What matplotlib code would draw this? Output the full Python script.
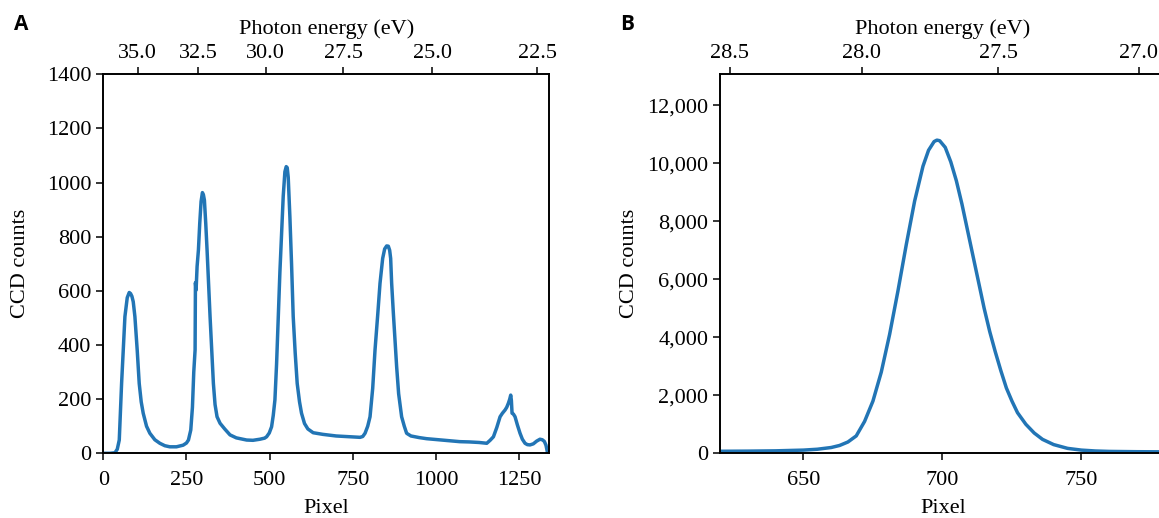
import numpy as np
import matplotlib.pyplot as plt

# panel A: full spectrum on the CCD
pixA = [0, 20, 35, 42, 48, 55, 65, 72, 78, 82, 86, 90, 95, 102, 108, 114, 120, 130, 140, 155, 170,
        185, 200, 220, 240, 250, 256, 263, 268, 272, 276, 277, 279, 282, 286, 290, 294, 298, 301,
        304, 308, 312, 316, 321, 326, 331, 336, 342, 351, 365, 381, 400, 431, 450, 471, 485, 491,
        499, 506, 511, 516, 521, 526, 531, 536, 541, 546, 550, 553, 556, 561, 566, 571, 577, 583,
        590, 596, 605, 615, 631, 660, 700, 740, 772, 780, 787, 795, 802, 810, 817, 825, 832, 840,
        846, 852, 857, 861, 864, 867, 872, 877, 882, 888, 897, 905, 912, 925, 950, 972, 1000,
        1030, 1072, 1100, 1130, 1153, 1163, 1173, 1183, 1193, 1200, 1208, 1213, 1218, 1222, 1225,
        1227, 1229, 1233, 1238, 1245, 1253, 1260, 1268, 1275, 1283, 1293, 1303, 1313, 1320, 1326,
        1331, 1335, 1340]
cntA = [0, 0, 2, 15, 49, 258, 505, 575, 594, 590, 580, 560, 505, 380, 258, 190, 148, 100, 74, 50, 37,
        28, 24, 24, 30, 38, 49, 86, 170, 300, 382, 630, 603, 690, 751, 850, 930, 963, 955,
        935, 850, 751, 640, 505, 380, 258, 180, 135, 111, 90, 68, 57, 49, 48, 52, 56, 61,
        75, 98, 140, 197, 330, 505, 670, 813, 950, 1040, 1059, 1055, 1020, 874, 700, 505, 370, 258,
        190, 148, 110, 90, 76, 70, 64, 61, 59, 62, 74, 100, 135, 240, 382, 510, 628, 720,
        755, 766, 765, 750, 720, 628, 520, 420, 320, 220, 135, 100, 74, 64, 58, 54, 51,
        48, 43, 42, 40, 37, 48, 61, 95, 135, 148, 160, 170, 185, 200, 215,
        195, 148, 145, 135, 105, 74, 52, 37, 32, 31, 35, 45, 52, 50, 44,
        30, 6, 0]

# panel B: zoom on one harmonic
pixB = [620, 630, 640, 650, 655, 660, 663, 666, 669, 672, 675, 678, 681, 684, 687, 690, 693, 695, 697,
        698, 699, 701, 703, 705, 707, 709, 711, 713, 715, 717, 719, 721, 723, 725, 727, 730, 733,
        736, 740, 745, 750, 755, 760, 770, 780]
cntB = [70, 75, 85, 110, 140, 200, 270, 390, 600, 1100, 1800, 2800, 4100, 5600, 7200, 8700, 9900, 10450, 10750,
        10800, 10780, 10550, 10050, 9400, 8600, 7700, 6800, 5900, 5000, 4200, 3500, 2850, 2250, 1800, 1400, 1000, 700,
        480, 300, 170, 110, 80, 65, 55, 50]

# photon energy ticks (eV) and where they sit in pixels
eA = ['35.0', '32.5', '30.0', '27.5', '25.0', '22.5']
eA_px = [103.6, 285.3, 487.8, 721.7, 988.8, 1304.3]
eB = ['28.5', '28.0', '27.5', '27.0']
eB_px = [623.5, 671.0, 720.0, 770.6]

plt.rcParams['font.family'] = ['Liberation Serif', 'DejaVu Serif']
plt.rcParams['font.size'] = 16
plt.rcParams['axes.linewidth'] = 1.2
plt.rcParams['xtick.major.size'] = 5
plt.rcParams['ytick.major.size'] = 5
plt.rcParams['xtick.major.width'] = 1.1
plt.rcParams['ytick.major.width'] = 1.1

fig = plt.figure(figsize=(11.59, 5.18), dpi=100)
W, H = 1159, 518
axA = fig.add_axes([103.3 / W, 1 - 453.3 / H, 446 / W, 379 / H])
axB = fig.add_axes([720 / W, 1 - 453.3 / H, 446 / W, 379 / H])

col = '#2275b5'
axA.plot(pixA, cntA, color=col, lw=2.5)
axA.set_xlim(0, 1341)
axA.set_ylim(0, 1400)
axA.set_xticks([0, 250, 500, 750, 1000, 1250])
axA.set_yticks(range(0, 1401, 200))
axA.tick_params(axis='x', pad=8)
axA.set_xlabel('Pixel', labelpad=6)
axA.set_ylabel('CCD counts', labelpad=12)
topA = axA.twiny()
topA.set_xlim(axA.get_xlim())
topA.set_xticks(eA_px)
topA.set_xticklabels(eA)
topA.tick_params(axis='x', pad=3)
topA.set_xlabel('Photon energy (eV)', labelpad=7)

axB.plot(pixB, cntB, color=col, lw=2.5)
axB.set_xlim(620, 780.4)
axB.set_ylim(0, 13070)
axB.set_xticks([650, 700, 750])
axB.set_yticks(range(0, 12001, 2000))
axB.set_yticklabels([f'{v:,}' for v in range(0, 12001, 2000)])
axB.tick_params(axis='x', pad=8)
axB.set_xlabel('Pixel', labelpad=6)
axB.set_ylabel('CCD counts', labelpad=6)
topB = axB.twiny()
topB.set_xlim(axB.get_xlim())
topB.set_xticks(eB_px)
topB.set_xticklabels(eB)
topB.tick_params(axis='x', pad=3)
topB.set_xlabel('Photon energy (eV)', labelpad=7)

fig.text(14 / W, 1 - 24 / H, 'A', family='Open Sans', weight='bold', fontsize=15, va='center')
fig.text(620 / W, 1 - 24 / H, 'B', family='Open Sans', weight='bold', fontsize=15, va='center')

fig.savefig('out.png', dpi=100)
